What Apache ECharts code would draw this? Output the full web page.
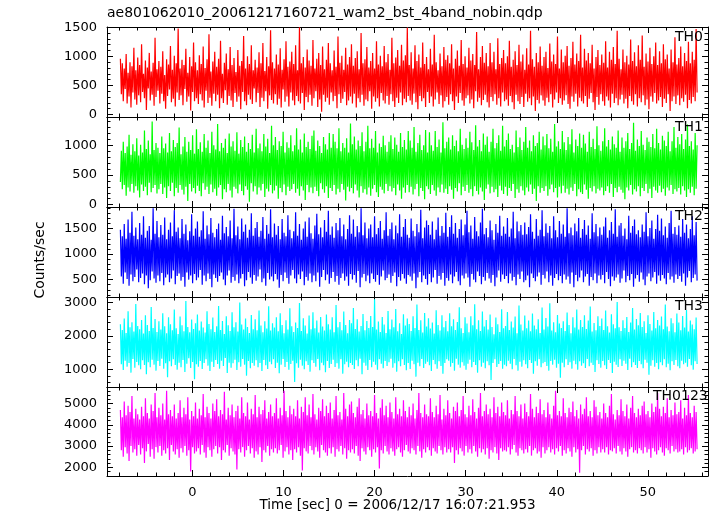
<!DOCTYPE html>
<html><head><meta charset="utf-8">
<script src="https://cdn.jsdelivr.net/npm/echarts@6/dist/echarts.min.js"></script>
<style>html,body{margin:0;padding:0;background:#fff}#c{width:717px;height:516px}</style>
</head><body><div id="c"></div>
<script>
// Regular time bins (seconds relative to 2006/12/17 16:07:21.953)
const binStart = -7.9;
const binWidth = 0.10568;

const th0 = [
960,350,880,230,790,440,1040,190,720,310,900,120,830,380,1150,260,760,170,980,330,
850,210,1210,390,700,280,930,80,810,450,1060,240,740,340,890,150,1320,300,780,410,
920,190,820,360,1090,230,680,100,950,320,860,430,1180,210,770,270,1010,140,880,380,
1480,250,790,330,940,160,850,440,1130,220,720,310,990,70,830,390,1240,230,900,280,
760,180,1020,350,870,240,1170,120,800,410,950,200,1380,290,740,150,910,360,1080,230,
820,340,960,110,1270,280,700,200,890,420,1050,170,780,320,1160,240,850,130,970,370,
730,220,1110,310,840,90,920,390,1350,230,790,160,1000,340,870,260,1190,180,760,450,
940,210,810,370,1070,130,880,290,1230,230,750,400,990,100,830,330,1450,250,900,190,
790,350,1030,170,860,270,1140,120,770,430,950,220,1260,310,820,140,910,380,1080,240,
870,160,1190,320,760,230,1500,190,880,370,990,80,810,300,1120,210,930,340,840,150,
1280,280,790,400,960,130,1060,260,850,50,1170,340,780,220,940,290,1230,170,880,380,
760,230,1100,320,820,110,1340,350,890,200,1010,270,770,390,1150,160,860,240,990,310,
1210,190,840,360,970,120,1090,280,780,210,1400,340,880,150,950,260,1160,230,810,400,
920,100,1060,310,790,220,1260,280,860,140,1010,370,830,240,1180,190,900,320,1040,170,
770,350,1320,230,880,130,980,290,1110,200,840,380,1200,160,930,270,1020,210,1490,320,
850,240,1070,170,790,360,1190,210,920,90,1030,320,810,230,1240,280,870,130,990,390,
780,200,1130,310,860,140,1370,260,900,380,760,180,1050,330,830,120,1160,230,940,300,
1020,170,880,350,1210,230,790,80,960,310,1100,200,840,370,1280,240,870,150,1000,280,
810,330,1150,190,930,260,1040,110,850,400,1420,220,780,290,990,160,1180,250,890,340,
1060,210,830,120,1230,300,900,230,1080,350,780,170,1310,280,870,140,970,380,1110,230,
880,260,1000,150,1270,320,820,210,940,90,1090,340,850,230,1200,180,910,300,1030,130,
770,360,1140,220,860,280,1440,160,950,310,820,60,1060,250,900,190,1170,330,840,240,
990,150,1080,290,800,210,1220,350,910,120,1030,260,870,380,1340,200,790,280,1120,170,
900,240,1010,330,1180,180,840,100,970,310,1250,220,860,360,1050,140,920,290,1370,230,
810,190,1130,320,930,130,1060,270,880,370,1200,210,790,80,990,300,1110,170,850,350,
1030,230,890,150,1260,310,810,240,1080,120,940,360,1160,200,870,280,1440,160,960,260,
780,340,1120,190,900,270,1010,110,860,320,1290,230,920,170,1070,350,830,140,1190,280,
940,210,1360,330,820,160,1050,260,910,90,1150,310,870,220,1000,370,1240,190,850,240,
1090,300,880,130,1210,270,950,200,1030,350,790,60,1120,230,900,310,1330,180,860,330,
970,160,1170,280,830,220,1060,340,920,110,1250,250,880,190,1080,300,940,230,1470,380
];
const th1 = [
380,910,260,1060,330,870,150,980,290,1180,220,840,350,1020,200,900,310,1120,240,830,
120,1010,340,880,230,1250,300,940,160,1080,370,850,210,1400,280,920,330,1040,190,960,
260,870,350,1150,180,950,290,1030,110,880,310,1210,230,900,370,1090,140,970,280,1040,
200,1300,330,850,250,980,170,1140,300,890,60,1060,350,920,220,1170,280,860,190,1270,
320,940,230,1050,140,890,360,1190,250,960,300,1080,180,870,340,1230,210,1000,270,930,
150,1360,290,900,330,1040,90,960,260,1110,210,870,350,1200,240,980,120,1070,300,910,
270,1220,190,860,340,1090,230,970,160,1150,310,890,250,1040,50,940,360,1180,220,880,
310,1280,170,950,290,1030,240,900,350,1190,130,980,270,1110,220,870,330,1330,190,1000,
240,1140,320,920,100,1070,280,990,210,1230,340,880,160,1050,300,960,230,1170,260,900,
350,1000,200,1290,270,930,150,1100,310,880,240,1200,80,970,330,1060,210,940,290,1160,
190,1250,300,910,230,1080,140,990,360,870,260,1140,200,1020,310,930,110,1210,280,960,
230,1190,330,1060,170,950,270,1290,210,900,350,1040,250,960,70,1120,300,880,220,1370,
280,1020,190,1150,340,930,240,1080,120,990,310,1220,200,900,260,1060,170,1330,290,950,
150,1110,270,960,330,1240,210,880,130,1030,300,970,250,1160,190,1000,350,890,230,1060,
310,1170,220,940,280,1130,160,1010,340,890,240,1210,100,970,290,1090,200,930,330,1240,
210,1080,300,960,170,1310,260,890,350,1040,140,1180,280,920,230,1000,90,1260,310,880,
260,1220,180,1000,330,910,240,1240,150,970,290,1100,210,880,340,1390,200,950,270,1060,
180,1130,310,930,250,1170,100,990,280,1080,220,900,360,1280,160,1010,300,940,230,1120,
330,960,200,1230,260,1050,140,920,310,1340,230,980,170,1090,290,900,220,1200,80,1010,
270,1150,340,890,190,1060,300,1280,210,950,260,1040,130,1170,320,910,240,1330,180,980,
300,1090,150,1200,280,940,230,1010,350,880,110,1250,260,970,200,1130,310,920,240,1060,
160,1310,290,960,220,1080,340,900,180,1170,270,990,60,1040,310,1230,200,930,280,1150,
230,1000,310,1190,150,950,260,1110,340,890,210,1360,280,980,120,1070,300,940,190,1240,
320,1050,200,920,270,1140,170,1020,290,1270,230,880,350,1100,140,990,260,1200,210,960,
180,1180,340,1030,250,890,100,1230,280,970,220,1110,310,940,190,1320,270,1000,240,910,
290,1070,160,1290,230,980,310,1090,200,930,350,1150,130,1020,280,960,210,1250,300,890,
250,1130,200,960,90,1070,290,1210,240,940,330,1040,170,1380,260,910,220,1100,310,990,
140,1240,280,1010,230,920,350,1130,190,1060,270,970,110,1190,300,950,240,1280,200,1040,
320,930,210,1160,270,1080,150,990,290,1230,240,900,330,1070,180,1310,260,960,220,1140,
280,1020,170,1190,310,940,240,1100,130,1350,260,990,200,1070,300,930,160,1210,270,1000
];
const th2 = [
1480,560,1350,420,1590,640,1300,510,1680,380,1420,600,1830,470,1360,550,1520,700,1290,450,
1610,530,1380,620,1740,410,1320,580,1460,330,1550,490,1280,660,1900,520,1400,440,1650,580,
1330,470,1570,630,1380,390,1720,540,1290,600,1480,450,1620,520,1350,680,1860,410,1440,570,
1520,620,1310,480,1690,550,1400,360,1580,640,1270,500,1450,580,1780,430,1360,610,1500,490,
1640,540,1340,690,1470,400,1840,580,1300,470,1560,620,1390,510,1710,350,1420,600,1330,530,
1490,460,1600,570,1280,640,1750,500,1410,390,1530,580,1350,680,1660,440,1310,550,1890,480,
1370,600,1540,430,1290,520,1700,610,1440,370,1580,490,1320,650,1480,540,1800,420,1360,590,
1510,480,1630,560,1340,700,1460,450,1730,520,1300,380,1570,630,1400,500,1880,560,1330,470,
1600,610,1380,500,1550,340,1290,590,1690,470,1420,640,1350,530,1760,420,1480,580,1310,690,
1450,520,1820,430,1360,600,1590,510,1280,660,1500,390,1640,550,1340,480,1720,620,1410,450,
1300,580,1560,470,1790,640,1390,360,1520,550,1330,690,1670,490,1440,600,1850,420,1380,530,
1540,650,1320,460,1610,570,1470,400,1710,530,1350,620,1580,480,1290,560,1490,380,1760,610,
1400,500,1680,590,1340,440,1550,670,1430,350,1900,540,1370,610,1620,470,1310,580,1500,430,
1580,620,1330,510,1740,460,1390,590,1510,400,1650,560,1300,680,1470,490,1820,530,1360,600,
1490,440,1620,570,1290,640,1560,370,1410,550,1780,480,1340,610,1530,520,1690,420,1380,590,
1320,560,1700,480,1460,620,1350,330,1590,540,1430,650,1870,450,1310,580,1520,510,1660,400,
1570,610,1380,450,1640,540,1290,690,1480,420,1720,570,1360,500,1550,630,1420,380,1810,530,
1340,480,1530,600,1760,430,1400,560,1610,650,1320,470,1490,390,1680,580,1370,520,1580,620,
1850,540,1430,360,1560,610,1300,500,1730,450,1450,660,1350,570,1620,410,1890,550,1390,480,
1510,630,1330,520,1660,440,1470,590,1280,370,1590,540,1420,680,1750,460,1360,600,1540,510,
1400,570,1710,430,1340,620,1500,480,1830,550,1310,390,1640,600,1450,510,1570,660,1380,450,
1620,490,1390,580,1530,350,1780,620,1440,530,1300,470,1690,560,1360,640,1480,400,1860,590,
1350,520,1600,660,1420,450,1550,580,1310,380,1740,530,1470,610,1330,490,1650,570,1400,430,
1580,600,1340,500,1900,560,1410,420,1520,640,1370,350,1600,590,1450,470,1710,540,1320,680,
1490,450,1670,560,1380,610,1560,380,1300,550,1800,490,1430,620,1590,430,1350,580,1520,500,
1380,590,1540,430,1720,650,1320,510,1470,370,1630,560,1400,480,1880,540,1340,600,1560,440,
1610,520,1360,680,1500,450,1290,570,1750,490,1420,610,1550,360,1680,520,1390,590,1470,460,
1330,640,1580,500,1440,390,1820,560,1350,620,1510,470,1660,540,1300,650,1490,420,1770,580,
1460,480,1700,590,1370,520,1540,410,1320,630,1610,500,1850,560,1400,440,1530,600,1380,510,
1560,570,1340,460,1690,620,1420,380,1580,540,1310,670,1490,450,1740,530,1370,600,1630,480
];
const th3 = [
2350,1150,2180,980,2520,1260,2090,1080,2740,1190,2260,900,2410,1310,2130,1050,2960,1220,2300,1120,
2200,1000,2480,1270,2070,1130,2620,850,2330,1210,2150,1060,2870,1290,2240,1140,2510,960,2120,1250,
2440,1100,2190,1320,2680,1020,2290,1180,2080,760,2560,1240,2350,1090,2170,1300,2790,1130,2230,990,
2060,1200,2580,1060,2320,1280,2140,920,3050,1170,2270,1330,2110,1040,2490,1220,2210,700,2380,1150,
2640,1080,2160,1250,2430,1010,2250,1190,2100,1300,2740,1110,2360,950,2200,1230,2550,1070,2120,1280,
2290,1160,2900,1020,2180,1260,2450,1100,2060,1340,2590,890,2320,1200,2150,1050,2710,1180,2260,1290,
2410,980,2130,1210,3000,1080,2340,1310,2190,1140,2520,810,2270,1250,2090,1030,2630,1190,2200,1110,
2500,1270,2170,1060,2760,1190,2310,950,2110,1280,2440,1120,2220,1010,2890,1230,2160,1150,2380,1300,
2250,1040,2560,1200,2140,880,2680,1140,2330,1310,2080,1070,2470,1220,2190,990,2830,1160,2290,1260,
2120,620,2400,1180,2240,1050,2990,1290,2150,1110,2530,1000,2310,1240,2070,1130,2610,930,2200,1270,
2710,1190,2230,1080,2460,1310,2100,970,2570,1200,2280,1120,2160,910,2640,1250,2350,1040,2190,1160,
2560,1290,2110,1070,2930,1180,2260,1020,2420,1300,2170,870,2730,1150,2330,1230,2080,1060,2480,1190,
2380,1130,2840,1010,2210,1270,2500,1090,2130,1320,2300,850,2660,1200,2170,1110,2450,980,2240,1280,
2600,1060,2270,1230,3100,1140,2190,990,2430,1300,2120,1170,2570,1030,2340,1250,2090,1100,2750,1210,
2200,1320,2490,1050,2260,1180,2810,930,2140,1240,2380,1090,2060,1300,2650,1130,2310,970,2520,1190,
2360,1010,2150,1260,2590,1150,2240,780,2940,1200,2180,1090,2470,1310,2100,1040,2690,1170,2280,1230,
2530,1120,2220,950,2400,1280,2070,1150,2770,1020,2330,1240,2160,1100,2620,870,2260,1190,2450,1300,
2140,1260,2680,1080,2290,1190,2500,960,2180,1320,2420,1140,2860,1050,2230,1210,2090,1110,2560,990,
2370,1170,2110,1290,2590,1060,2320,1220,2950,1130,2200,900,2470,1270,2150,1080,2730,1200,2280,1030,
2480,1240,2190,1120,2640,680,2270,1190,2050,1300,2550,1070,2350,1160,2120,1250,2800,1020,2230,1140,
2300,1090,2720,1260,2180,1170,2430,1000,2250,1310,2580,1120,2080,960,2910,1230,2340,1080,2160,1270,
2610,1150,2230,1030,2460,1280,2140,1190,2670,870,2310,1240,2200,1110,2500,1300,2090,1060,2850,1180,
2190,1220,2540,1100,2280,960,2980,1250,2160,1140,2410,1290,2110,1050,2630,1170,2370,750,2240,1200,
2440,1060,2150,1300,2700,1130,2330,1210,2080,1020,2560,1260,2250,1150,2790,990,2190,1240,2480,1110,
2270,1180,2620,1040,2210,1310,2460,1090,2880,1200,2130,1130,2390,920,2170,1270,2590,1160,2300,1050,
2520,1250,2180,1120,2760,1010,2290,1280,2100,1190,2650,890,2350,1230,2230,1140,3020,1070,2260,1300,
2150,1100,2470,1260,2240,1170,2570,980,2120,1320,2400,1060,2840,1210,2190,1130,2510,1040,2320,1250,
2690,1150,2270,1030,2440,1290,2090,1200,2620,840,2360,1110,2160,1270,2720,1080,2230,1190,2480,1000,
2310,1210,2580,1120,2200,1300,2940,1060,2280,1170,2140,970,2530,1240,2380,1130,2110,1280,2670,1090,
2400,1030,2170,1260,2600,1150,2250,1200,2780,1080,2130,1310,2460,1120,2340,990,2200,1240,2550,1160
];
const th0123 = [
4700,2800,4350,2500,5100,2950,4450,2650,4900,2300,4600,3000,5350,2700,4300,2850,4750,2550,4500,3050,
4250,2600,4850,2900,4400,2200,5250,2750,4550,3100,4300,2500,4950,2850,4650,2400,5500,2950,4350,2700,
4800,3000,4450,2550,5000,2800,4250,2650,5600,2900,4500,2350,4700,3050,4400,2750,4950,2600,4300,2850,
4550,2450,5150,2900,4350,2700,4800,3000,4500,2550,5300,2800,4250,1800,4650,2950,4400,2650,5050,2750,
4300,2900,4750,2600,4450,3050,5450,2700,4350,2450,4850,2950,4550,2800,4300,2500,5000,2850,4650,3000,
5200,2650,4400,2950,4700,2350,4500,2800,5550,2700,4250,3050,4800,2550,4450,2900,4950,2750,4350,2600,
4650,1900,4900,2850,4300,2700,5300,2950,4550,2500,4400,2800,5050,3000,4250,2650,4750,2900,4500,2450,
5400,2750,4350,2600,4850,2950,4500,2250,4700,2800,5150,2700,4300,3000,4600,2550,4950,2850,4400,2700,
4550,2900,5250,2650,4300,2800,4800,3050,4450,2450,5600,2750,4650,2950,4350,2600,4900,2800,4500,2350,
4750,2850,4400,2700,5150,2950,4300,2550,4850,1850,4600,2900,5300,2750,4450,2650,4950,3000,4350,2800,
5450,2600,4500,2950,4250,2750,4800,2450,4650,3050,5200,2800,4400,2700,4900,2550,4550,2900,5050,2650,
4300,2950,4700,2500,5350,2850,4450,2750,4600,3000,4250,2600,5500,2900,4750,2400,4400,2800,4950,2700,
5100,2850,4550,2650,4350,3000,4850,2550,5250,2300,4500,2900,4700,2750,4300,2600,5000,2950,4450,2800,
4650,2500,4400,2850,5400,2700,4550,2950,4300,1950,4800,2800,5200,2650,4450,3000,4900,2750,4350,2600,
5050,2900,4600,2750,4300,2550,5300,2850,4500,2950,4750,2700,4400,2500,5150,2800,4650,3050,4350,2750,
4850,2650,4450,2900,5000,2800,4300,2600,4700,3000,5500,2750,4550,2450,4350,2850,4950,2700,4500,2950,
4400,2800,5250,2550,4600,2900,4350,2750,4900,2650,4500,3000,5400,2800,4250,2600,4750,2950,4450,2700,
5150,2850,4550,2700,4300,2950,4850,2200,4650,2800,5050,2600,4400,2900,4700,2750,5350,2550,4500,3000,
4350,2700,4900,2850,4450,2650,5200,3000,4600,2750,4300,2500,4800,2900,5500,2700,4400,2850,4650,2600,
4950,2900,4500,2400,4750,2800,4350,2700,5300,2950,4550,2650,4850,2350,4400,2900,5050,2750,4600,2800,
4450,2750,5150,2950,4300,2600,4700,2850,4500,3050,5350,2700,4650,2550,4400,2900,4950,2800,4300,2650,
5000,2850,4600,2700,4400,3000,5450,2550,4750,2800,4350,2900,4850,2650,4550,2750,5200,2450,4500,2950,
4700,2650,4350,2800,5050,2950,4500,2700,4300,2850,4900,2600,5600,2900,4450,2750,4650,3000,4400,2550,
5250,2800,4550,2650,4350,2900,4800,2750,4600,2500,5100,2950,4400,2700,4700,2850,4300,1750,4950,2800,
4500,3000,4750,2600,5300,2850,4400,2750,4650,2900,4350,2550,5150,2800,4850,2650,4450,2950,4600,2700,
4300,2850,5000,2700,4550,2950,4350,2600,4900,2800,5450,2750,4500,2900,4250,2650,4700,3000,4450,2750,
5200,2600,4650,2900,4400,2750,4950,2500,4300,2850,4800,2950,5350,2700,4550,2800,4350,2650,4750,2900,
4450,2800,4900,2650,5100,2950,4500,2700,4650,2850,4350,2450,5000,2900,4600,2750,4850,2600,5500,2800,
4750,2950,4400,2700,4850,2550,4550,2900,5250,2800,4350,2650,4700,3000,4450,2750,5050,2850,4500,2700,
4600,2750,5150,2850,4300,2600,4800,2950,4450,2700,5400,2800,4550,2900,4350,2650,4900,2750,4600,2850
];

const panelNames = ['TH0', 'TH1', 'TH2', 'TH3', 'TH0123'];
const panelSeries = [th0, th1, th2, th3, th0123];
const panelColors = ['#ff0000', '#00ff00', '#0000ff', '#00ffff', '#ff00ff'];
const yMins = [-42, -40, 159, 469, 1591];
const yMaxs = [1505, 1478, 1924, 3168, 5778];
const yIntervals = [500, 500, 500, 1000, 1000];
const xMin = -9.37, xMax = 56.6, xInterval = 10;
const titleText = 'ae801062010_20061217160721_wam2_bst_4band_nobin.qdp';
const xName = 'Time [sec] 0 = 2006/12/17 16:07:21.953';
const yName = 'Counts/sec';

const FONT = '"DejaVu Sans", "Liberation Sans", Arial, sans-serif';
const tops = [27, 117, 207, 297, 387];
const heights = [90, 90, 90, 90, 89];
const labelPos = [[675, 37.5], [675, 127.5], [675, 216.5], [675, 306], [653, 396]];

const chart = echarts.init(document.getElementById('c'), null, {renderer: 'canvas'});
const grids = [], xAxes = [], yAxes = [], series = [];
const lineStyle = {color: '#000', width: 1};

function fmt(interval) {
  return function (v) { return Math.abs(v % interval) < 1e-6 ? String(Math.round(v)) : ''; };
}

for (let i = 0; i < 5; i++) {
  grids.push({left: 107, right: 9, top: tops[i], height: heights[i], containLabel: false});
  const baseX = {
    type: 'value', gridIndex: i, min: xMin, max: xMax,
    minInterval: xInterval, maxInterval: xInterval,
    axisLine: {show: true, onZero: false, lineStyle},
    axisTick: {show: true, inside: true, length: 6, lineStyle},
    minorTick: {show: true, splitNumber: 5, length: 3.5, lineStyle},
    splitLine: {show: false},
    axisLabel: {show: false}
  };
  xAxes.push(Object.assign({}, baseX, {
    position: 'bottom',
    axisLabel: {show: i === 4, formatter: fmt(xInterval), color: '#000',
      fontFamily: FONT, fontSize: 13, margin: 10}
  }));
  xAxes.push(Object.assign({}, baseX, {position: 'top'}));
  const baseY = {
    type: 'value', gridIndex: i, min: yMins[i], max: yMaxs[i],
    minInterval: yIntervals[i], maxInterval: yIntervals[i],
    axisLine: {show: true, onZero: false, lineStyle},
    axisTick: {show: true, inside: true, length: 6, lineStyle},
    minorTick: {show: true, splitNumber: 5, length: 3.5, lineStyle},
    splitLine: {show: false},
    axisLabel: {show: false}
  };
  yAxes.push(Object.assign({}, baseY, {
    position: 'left',
    axisLabel: {show: true, formatter: fmt(yIntervals[i]), color: '#000',
      fontFamily: FONT, fontSize: 13, margin: 10}
  }));
  yAxes.push(Object.assign({}, baseY, {position: 'right'}));
  series.push({
    type: 'line', name: panelNames[i], xAxisIndex: 2 * i, yAxisIndex: 2 * i,
    data: panelSeries[i].map((v, k) => [binStart + k * binWidth, v]),
    showSymbol: false, symbol: 'none', sampling: null, clip: true,
    lineStyle: {color: panelColors[i], width: 1.2},
    itemStyle: {color: panelColors[i]},
    animation: false, silent: true
  });
}

const graphics = [
  {type: 'text', left: 107, top: 6, style: {text: titleText, font: '14px ' + FONT, fill: '#000'}},
  {type: 'text', x: 397.5, y: 505, style: {text: xName, font: '13.5px ' + FONT, fill: '#000', align: 'center', verticalAlign: 'middle'}},
  {type: 'text', x: 40, y: 260, rotation: Math.PI / 2, style: {text: yName, font: '14px ' + FONT, fill: '#000', align: 'center', verticalAlign: 'middle'}}
];
for (let i = 0; i < 5; i++) {
  graphics.push({type: 'text', x: labelPos[i][0], y: labelPos[i][1], z: 100,
    style: {text: panelNames[i], font: '14px ' + FONT, fill: '#000', align: 'left', verticalAlign: 'middle'}});
}

chart.setOption({
  animation: false,
  backgroundColor: '#fff',
  grid: grids, xAxis: xAxes, yAxis: yAxes, series: series,
  graphic: graphics
});
</script>
</body></html>
